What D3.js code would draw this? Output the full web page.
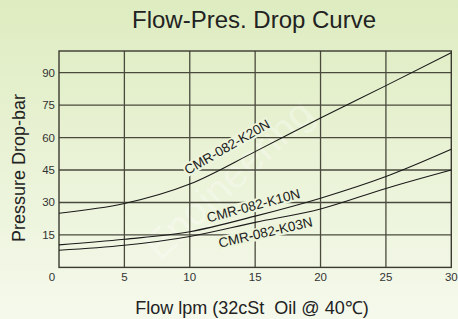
<!DOCTYPE html>
<html>
<head>
<meta charset="utf-8">
<script src="https://cdn.jsdelivr.net/npm/d3@7"></script>
<style>
  body { margin: 0; background: #eef5dc; }
  svg { display: block; font-family: "Liberation Sans", Arial, sans-serif; }
</style>
</head>
<body>
<div id="chart"></div>
<script>
// flow points (lpm)
var flow = [0, 5, 10, 15, 20, 25, 30];

// pressure drop (bar) for each cartridge
var k20n = [25, 29.5, 38.5, 53.5, 69, 84, 99.2];
var k10n = [10.4, 13, 16.5, 23.7, 32, 42, 54.6];
var k03n = [7.9, 10.2, 14.3, 20.8, 27, 36.5, 45];

var seriesNames = ["CMR-082-K20N", "CMR-082-K10N", "CMR-082-K03N"];

// tick labels
var xTicks = [5, 10, 15, 20, 25, 30];
var yTicks = [15, 30, 45, 60, 75, 90];

var width = 458, height = 319;
var margin = { top: 51, right: 6, bottom: 52, left: 59 };

var svg = d3.select("#chart")
  .append("svg")
  .attr("width", width)
  .attr("height", height);

// soft green background, darker at the top
var grad = svg.append("defs").append("linearGradient")
  .attr("id", "bg")
  .attr("x1", 0).attr("y1", 0).attr("x2", 0).attr("y2", 1);
grad.append("stop").attr("offset", "0%").attr("stop-color", "#deecc0");
grad.append("stop").attr("offset", "100%").attr("stop-color", "#f5f9ec");

svg.append("rect")
  .attr("width", width)
  .attr("height", height)
  .attr("fill", "url(#bg)");

var xScale = d3.scaleLinear()
  .domain([0, 30])
  .range([margin.left, width - margin.right - 0.7]);

var yScale = d3.scaleLinear()
  .domain([0, 100])
  .range([height - margin.bottom + 0.4, margin.top]);

// faint watermark
svg.append("text")
  .attr("transform", "translate(160,262) rotate(-43)")
  .attr("font-size", 40)
  .attr("fill", "#ffffff")
  .attr("opacity", 0.3)
  .text("Engineering");

// grid lines
var grid = svg.append("g")
  .attr("stroke", "#4a4a3c")
  .attr("stroke-width", 1.3);

grid.selectAll("line.v")
  .data(xTicks.slice(0, -1))
  .enter()
  .append("line")
  .attr("x1", function (d) { return xScale(d); })
  .attr("x2", function (d) { return xScale(d); })
  .attr("y1", yScale(100))
  .attr("y2", yScale(0));

grid.selectAll("line.h")
  .data(yTicks)
  .enter()
  .append("line")
  .attr("x1", xScale(0))
  .attr("x2", xScale(30))
  .attr("y1", function (d) { return yScale(d); })
  .attr("y2", function (d) { return yScale(d); });

// frame
svg.append("rect")
  .attr("x", xScale(0))
  .attr("y", yScale(100))
  .attr("width", xScale(30) - xScale(0))
  .attr("height", yScale(0) - yScale(100))
  .attr("fill", "none")
  .attr("stroke", "#3a3a30")
  .attr("stroke-width", 1.4);

// curves
var curves = [k20n, k10n, k03n];
var line = d3.line()
  .x(function (d, i) { return xScale(flow[i]); })
  .y(function (d) { return yScale(d); })
  .curve(d3.curveMonotoneX);

svg.selectAll("path.curve")
  .data(curves)
  .enter()
  .append("path")
  .attr("class", "curve")
  .attr("d", line)
  .attr("fill", "none")
  .attr("stroke", "#1a1a1a")
  .attr("stroke-width", 1.1);

// curve labels, sitting on a patch of background
var labelPos = [
  { x: 13.1, y: 53.0, angle: -30 },
  { x: 15.0, y: 25.6, angle: -15 },
  { x: 15.9, y: 13.2, angle: -13 }
];

seriesNames.forEach(function (name, i) {
  var p = labelPos[i];
  var g = svg.append("g")
    .attr("transform", "translate(" + xScale(p.x) + "," + yScale(p.y) + ") rotate(" + p.angle + ")");
  var patch = g.append("rect").attr("fill", "#edf4dc");
  var t = g.append("text")
    .attr("text-anchor", "middle")
    .attr("y", -2)
    .attr("font-size", 13.5)
    .attr("fill", "#1a1a1a")
    .text(name);
  var b = t.node().getBBox();
  patch.attr("x", b.x - 1).attr("y", b.y + 1)
    .attr("width", b.width + 2).attr("height", b.height - 2);
});

// axis tick labels
svg.selectAll("text.xt")
  .data(xTicks)
  .enter()
  .append("text")
  .attr("x", function (d) { return xScale(d); })
  .attr("y", yScale(0) + 14)
  .attr("text-anchor", "middle")
  .attr("font-size", 11.5)
  .attr("fill", "#333")
  .text(function (d) { return d; });

svg.selectAll("text.yt")
  .data(yTicks)
  .enter()
  .append("text")
  .attr("x", xScale(0) - 4)
  .attr("y", function (d) { return yScale(d) + 4; })
  .attr("text-anchor", "end")
  .attr("font-size", 11.5)
  .attr("fill", "#333")
  .text(function (d) { return d; });

svg.append("text")
  .attr("x", xScale(0) - 7)
  .attr("y", yScale(0) + 14)
  .attr("text-anchor", "middle")
  .attr("font-size", 11.5)
  .attr("fill", "#333")
  .text("0");

// titles
svg.append("text")
  .attr("x", 254)
  .attr("y", 28)
  .attr("text-anchor", "middle")
  .attr("font-size", 24)
  .attr("fill", "#222")
  .text("Flow-Pres. Drop Curve");

svg.append("text")
  .attr("x", 252)
  .attr("y", 314)
  .attr("text-anchor", "middle")
  .attr("font-size", 18)
  .attr("fill", "#222")
  .style("white-space", "pre")
  .text("Flow lpm (32cSt  Oil @ 40\u2103)");

svg.append("text")
  .attr("transform", "translate(25,168) rotate(-90)")
  .attr("text-anchor", "middle")
  .attr("font-size", 18)
  .attr("fill", "#222")
  .text("Pressure Drop-bar");
</script>
</body>
</html>
